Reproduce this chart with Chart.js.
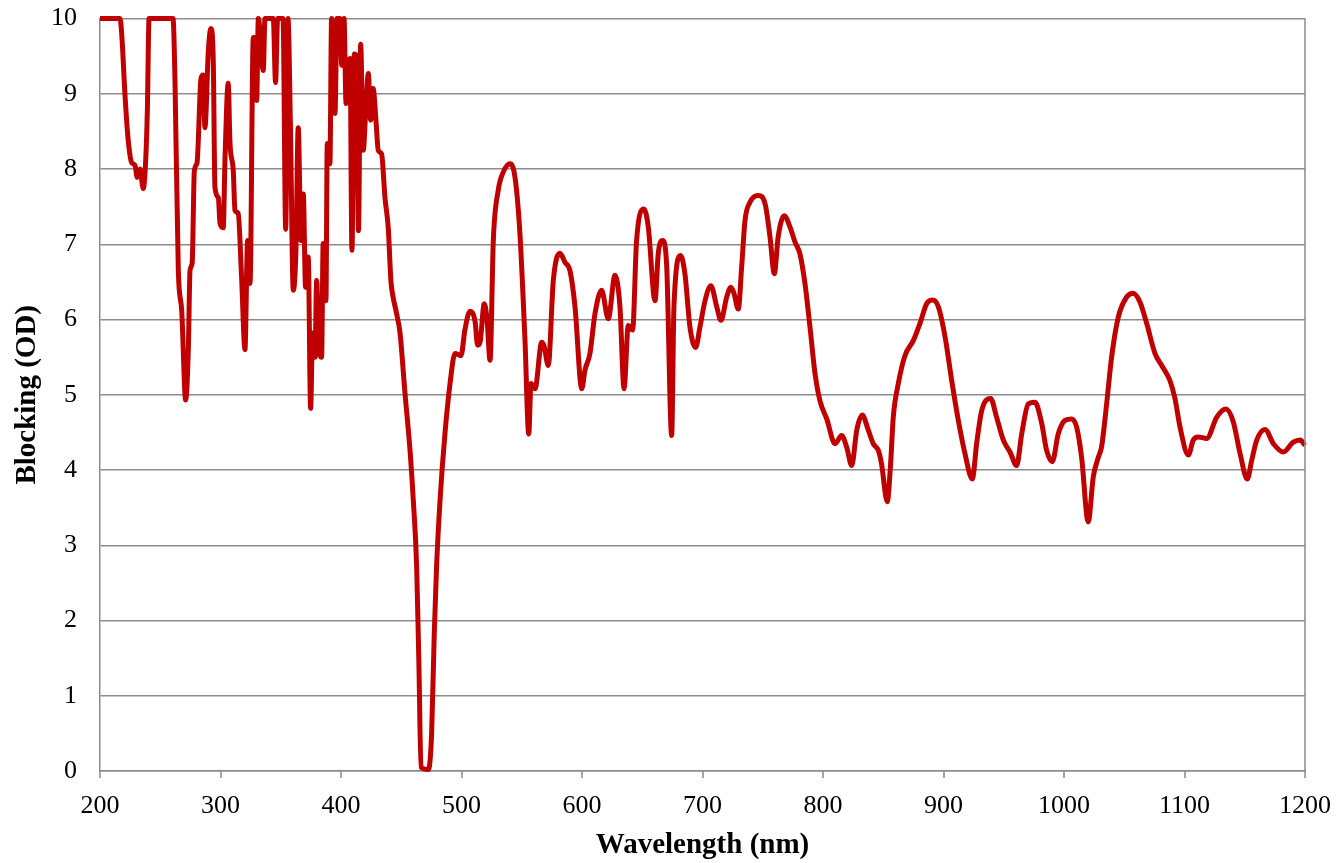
<!DOCTYPE html>
<html>
<head>
<meta charset="utf-8">
<script src="https://cdn.jsdelivr.net/npm/chart.js@4.4.1/dist/chart.umd.min.js"></script>
<style>
    html, body { margin: 0; padding: 0; background: #fff; }
    #wrap { width: 1338px; height: 863px; position: relative; }
</style>
</head>
<body>
<div id="wrap"><canvas id="odChart"></canvas></div>
<script>
// wavelength in nm
const wavelength = [
    200.0, 216.6, 218.0, 220.7, 223.2, 226.2, 229.0, 230.9, 233.2, 235.9, 237.9, 239.3, 240.7,
    260.6, 262.2, 265.0, 267.8, 271.1, 273.3, 274.7, 276.5, 278.3, 280.5, 283.8, 285.5, 287.1,
    289.9, 292.1, 294.0, 295.4, 298.2, 299.6, 302.3, 303.7, 306.4, 307.9, 310.6, 312.0, 314.7,
    317.5, 320.3, 322.5, 324.5, 327.2, 328.0, 330.0, 331.4, 335.5, 336.9, 343.8, 345.7, 347.4,
    351.9, 354.1, 356.0, 358.0, 360.4, 362.6, 364.5, 366.8, 368.7, 370.6, 372.8, 374.8, 376.4,
    378.4, 379.8, 381.7, 383.9, 385.2, 387.5, 388.6, 390.8, 392.2, 395.0, 396.7, 399.2, 400.6,
    402.5, 404.2, 405.8, 407.5, 409.1, 411.0, 412.8, 414.5, 416.3, 418.5, 420.3, 422.7, 424.6,
    426.7, 429.0, 430.9, 433.7, 436.5, 439.2, 441.5, 443.2, 445.6, 449.0, 453.1, 457.3, 460.0,
    462.8, 464.7, 466.4, 472.5, 475.2, 477.4, 479.3, 482.2, 486.3, 490.5, 494.6, 499.6, 502.9,
    507.1, 511.2, 513.4, 515.4, 518.9, 521.2, 523.7, 526.4, 530.5, 534.7, 540.3, 544.4, 548.5,
    552.7, 555.8, 557.7, 561.0, 566.6, 568.5, 572.0, 576.2, 581.7, 585.9, 590.0, 594.2, 599.8,
    602.5, 606.6, 610.8, 616.3, 621.8, 627.4, 631.5, 634.9, 638.4, 642.0, 645.3, 651.4, 655.0,
    660.6, 663.3, 666.9, 670.2, 674.4, 676.3, 681.8, 685.4, 689.6, 694.3, 697.9, 702.1, 707.0,
    711.8, 715.3, 720.1, 723.6, 726.1, 729.7, 732.5, 735.3, 739.4, 746.3, 751.9, 756.0, 759.6,
    762.8, 767.9, 772.6, 776.8, 780.9, 785.1, 789.2, 793.4, 797.5, 803.1, 810.0, 815.5, 819.7,
    823.8, 828.0, 832.6, 837.6, 841.7, 845.9, 848.6, 853.3, 856.1, 858.3, 862.5, 868.0, 874.9,
    880.5, 886.0, 891.0, 895.7, 901.3, 906.8, 912.3, 917.8, 923.9, 927.5, 931.7, 939.1, 944.1,
    949.6, 955.2, 960.7, 964.9, 970.4, 975.9, 981.5, 985.6, 990.3, 995.2, 1000.8, 1006.4, 1010.5,
    1014.6, 1020.1, 1024.3, 1028.5, 1031.2, 1035.4, 1039.5, 1045.0, 1052.0, 1057.5, 1063.1, 1068.6,
    1075.5, 1081.1, 1087.9, 1092.1, 1096.3, 1103.2, 1107.3, 1111.4, 1118.4, 1126.7, 1134.4, 1140.5,
    1146.1, 1152.1, 1155.8, 1160.0, 1166.8, 1173.8, 1182.0, 1190.3, 1195.9, 1200.0
];

// blocking in OD (values above 10 drawn at the 10 ceiling)
const blocking = [
    10, 10, 9.8, 9.0, 8.42, 8.09, 8.05, 7.89, 8.0, 7.74, 8.11, 8.78, 10,
    10, 9.2, 6.65, 6.12, 4.93, 5.6, 6.65, 6.75, 7.98, 8.08, 9.2, 9.25, 8.55,
    9.57, 9.87, 9.44, 7.76, 7.62, 7.28, 7.22, 8.11, 9.14, 8.34, 7.98, 7.45, 7.41,
    6.56, 5.6, 7.05, 6.48, 9.75, 9.75, 8.91, 10, 9.31, 10, 10, 9.15, 10,
    10, 7.2, 10, 8.6, 6.39, 6.92, 8.55, 7.05, 7.67, 6.43, 6.83, 4.82, 5.82,
    5.5, 6.52, 5.59, 5.5, 7.01, 6.25, 8.34, 8.07, 10, 8.74, 10, 10, 9.38,
    10, 8.87, 9.4, 9.47, 6.92, 9.53, 9.5, 7.18, 9.66, 8.25, 8.7, 9.27, 8.65,
    9.07, 8.65, 8.25, 8.2, 7.62, 7.22, 6.5, 6.3, 6.12, 5.82, 5.02, 4.26, 3.6,
    2.71, 1.38, 0.05, 0.02, 0.5, 1.83, 2.71, 3.6, 4.49, 5.15, 5.55, 5.52, 5.87,
    6.11, 5.98, 5.66, 5.7, 6.21, 6.0, 5.46, 7.05, 7.72, 7.96, 8.07, 7.89, 7.14,
    5.72, 4.48, 5.15, 5.08, 5.7, 5.65, 5.39, 6.52, 6.88, 6.76, 6.65, 6.17, 5.08,
    5.33, 5.55, 6.08, 6.39, 6.01, 6.59, 6.17, 5.08, 5.92, 5.86, 7.05, 7.47, 7.23,
    6.25, 6.88, 7.05, 6.74, 4.46, 6.17, 6.85, 6.61, 5.9, 5.63, 5.9, 6.25, 6.45,
    6.17, 5.99, 6.3, 6.43, 6.35, 6.14, 6.7, 7.32, 7.56, 7.65, 7.54, 7.1, 6.61,
    7.1, 7.38, 7.23, 7.03, 6.87, 6.47, 5.9, 5.28, 4.92, 4.68, 4.35, 4.46, 4.3,
    4.06, 4.53, 4.73, 4.53, 4.35, 4.26, 4.08, 3.58, 4.08, 4.7, 5.15, 5.52, 5.72,
    5.95, 6.21, 6.26, 6.17, 5.77, 5.19, 4.66, 4.22, 3.88, 4.35, 4.79, 4.95, 4.7,
    4.4, 4.24, 4.06, 4.48, 4.88, 4.9, 4.62, 4.26, 4.11, 4.48, 4.66, 4.68, 4.57,
    4.17, 3.31, 3.91, 4.17, 4.31, 4.88, 5.5, 6.03, 6.3, 6.35, 6.23, 5.95,
    5.55, 5.39, 5.19, 4.95, 4.57, 4.2, 4.4, 4.44, 4.42, 4.7, 4.81, 4.64,
    4.22, 3.88, 4.13, 4.4, 4.54, 4.35, 4.24, 4.37, 4.4, 4.33
];

const xTicks = [200, 300, 400, 500, 600, 700, 800, 900, 1000, 1100, 1200];
const yTicks = [0, 1, 2, 3, 4, 5, 6, 7, 8, 9, 10];

const gridGray = "#8c8c8c";
const tickFont = { family: "'Liberation Serif', 'Times New Roman', serif", size: 26 };
const titleFont = { family: "'Liberation Serif', 'Times New Roman', serif", size: 29, weight: "bold" };

// right-hand border of the plot area + short x tick marks under the axis
const plotBorder = {
    id: "plotBorder",
    afterDraw(chart) {
        const a = chart.chartArea;
        const c = chart.ctx;
        const xs = chart.scales.x;
        c.save();
        c.strokeStyle = gridGray;
        c.lineWidth = 1.5;
        c.beginPath();
        c.moveTo(a.right, a.top);
        c.lineTo(a.right, a.bottom);
        xTicks.forEach(v => {
            const px = Math.round(xs.getPixelForValue(v));
            c.moveTo(px, a.bottom);
            c.lineTo(px, a.bottom + 7);
        });
        c.stroke();
        c.restore();
    }
};

const points = wavelength.map((w, i) => ({ x: w, y: blocking[i] }));

const ctx = document.getElementById("odChart").getContext("2d");

new Chart(ctx, {
    type: "line",
    data: {
        datasets: [{
            label: "Blocking",
            data: points,
            borderColor: "#C00000",
            borderWidth: 5,
            pointRadius: 0,
            fill: false,
            cubicInterpolationMode: "monotone",
            clip: 4
        }]
    },
    options: {
        responsive: true,
        maintainAspectRatio: false,
        animation: false,
        layout: {
            padding: { top: 0, right: 33, left: 0, bottom: 0 }
        },
        plugins: {
            legend: { display: false },
            tooltip: { enabled: false }
        },
        scales: {
            x: {
                type: "linear",
                min: 200,
                max: 1200,
                afterBuildTicks: (scale) => { scale.ticks = xTicks.map(v => ({ value: v })); },
                afterFit: (scale) => { scale.height = 92; },
                grid: {
                    drawOnChartArea: false,
                    tickLength: 20,
                    tickColor: "rgba(0,0,0,0)"
                },
                border: { color: gridGray, width: 1.5 },
                ticks: {
                    color: "#000",
                    font: tickFont,
                    padding: 0,
                    maxRotation: 0,
                    callback: (v) => String(v)
                },
                title: {
                    display: true,
                    text: "Wavelength (nm)",
                    color: "#000",
                    font: titleFont,
                    padding: { top: 0, bottom: 0 }
                }
            },
            y: {
                min: 0,
                max: 10,
                afterBuildTicks: (scale) => { scale.ticks = yTicks.map(v => ({ value: v })); },
                afterFit: (scale) => { scale.width = 100; },
                grid: {
                    color: gridGray,
                    lineWidth: 1.5,
                    tickLength: 20,
                    tickColor: "rgba(0,0,0,0)"
                },
                border: { color: gridGray, width: 1.5 },
                ticks: {
                    color: "#000",
                    font: tickFont,
                    padding: 3,
                    callback: (v) => String(v)
                },
                title: {
                    display: true,
                    text: "Blocking (OD)",
                    color: "#000",
                    font: titleFont,
                    padding: { top: 10, bottom: 0 }
                }
            }
        }
    },
    plugins: [plotBorder]
});
</script>
</body>
</html>
